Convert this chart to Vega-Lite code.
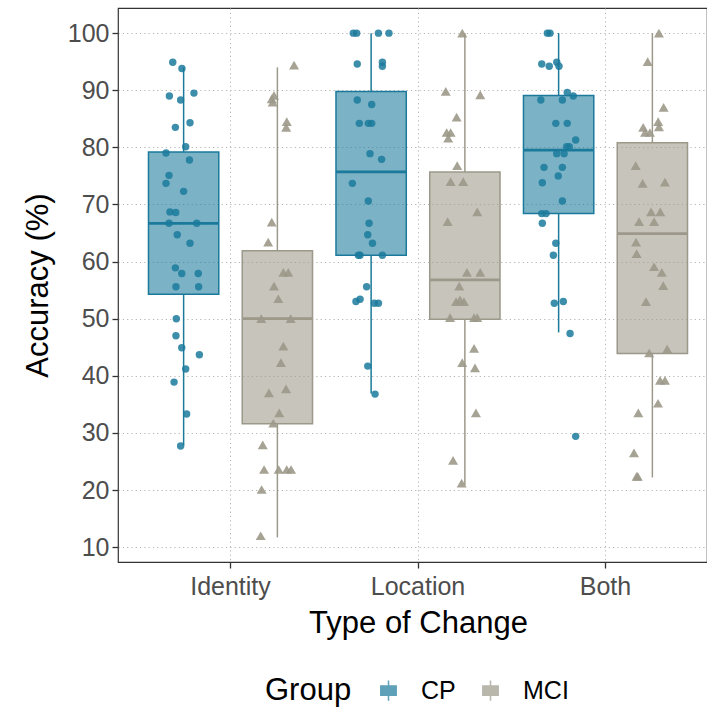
{
  "$schema": "https://vega.github.io/schema/vega-lite/v6.json",
  "width": 589,
  "height": 554,
  "autosize": {"type": "none"},
  "padding": {"left": 118, "top": 8, "right": 0, "bottom": 151},
  "background": "white",
  "config": {
    "font": "Liberation Sans",
    "view": {"stroke": "#333333", "strokeWidth": 1.2},
    "axis": {
      "domain": false,
      "grid": true,
      "gridColor": "#b5b5b5",
      "gridDash": [1.2, 3.1],
      "gridWidth": 1,
      "tickColor": "#333333",
      "tickWidth": 1.3,
      "tickSize": 6,
      "labelColor": "#4d4d4d",
      "labelFontSize": 25,
      "labelPadding": 3,
      "titleFontSize": 31,
      "titleFontWeight": "normal",
      "titleColor": "#000000"
    },
    "legend": {
      "titleFontSize": 31,
      "titleFontWeight": "normal",
      "titleColor": "#000000",
      "labelFontSize": 25,
      "labelColor": "#000000"
    }
  },
  "datasets": {
    "boxes": [
      {"type": "Identity", "group": "CP", "lower": 27.8, "q1": 54.3, "median": 66.7, "q3": 79.2, "upper": 94.0},
      {"type": "Identity", "group": "MCI", "lower": 11.7, "q1": 31.6, "median": 50.0, "q3": 61.9, "upper": 94.0},
      {"type": "Location", "group": "CP", "lower": 36.9, "q1": 61.1, "median": 75.7, "q3": 89.8, "upper": 100},
      {"type": "Location", "group": "MCI", "lower": 20.9, "q1": 49.9, "median": 56.8, "q3": 75.7, "upper": 100},
      {"type": "Both", "group": "CP", "lower": 47.6, "q1": 68.4, "median": 79.5, "q3": 89.1, "upper": 100},
      {"type": "Both", "group": "MCI", "lower": 22.2, "q1": 43.9, "median": 64.9, "q3": 80.8, "upper": 100}
    ],
    "points": [
      {"type": "Identity", "group": "CP", "accuracy": 94.9, "jitter": -0.058},
      {"type": "Identity", "group": "CP", "accuracy": 93.8, "jitter": -0.009},
      {"type": "Identity", "group": "CP", "accuracy": 89.5, "jitter": 0.055},
      {"type": "Identity", "group": "CP", "accuracy": 89.0, "jitter": -0.076},
      {"type": "Identity", "group": "CP", "accuracy": 88.3, "jitter": -0.016},
      {"type": "Identity", "group": "CP", "accuracy": 84.3, "jitter": 0.034},
      {"type": "Identity", "group": "CP", "accuracy": 83.5, "jitter": -0.044},
      {"type": "Identity", "group": "CP", "accuracy": 80.1, "jitter": 0.011},
      {"type": "Identity", "group": "CP", "accuracy": 79.0, "jitter": -0.094},
      {"type": "Identity", "group": "CP", "accuracy": 77.8, "jitter": 0.031},
      {"type": "Identity", "group": "CP", "accuracy": 75.1, "jitter": -0.078},
      {"type": "Identity", "group": "CP", "accuracy": 73.7, "jitter": -0.094},
      {"type": "Identity", "group": "CP", "accuracy": 72.3, "jitter": 0.0},
      {"type": "Identity", "group": "CP", "accuracy": 68.7, "jitter": -0.073},
      {"type": "Identity", "group": "CP", "accuracy": 68.6, "jitter": -0.042},
      {"type": "Identity", "group": "CP", "accuracy": 66.7, "jitter": -0.078},
      {"type": "Identity", "group": "CP", "accuracy": 66.7, "jitter": 0.070},
      {"type": "Identity", "group": "CP", "accuracy": 64.7, "jitter": -0.034},
      {"type": "Identity", "group": "CP", "accuracy": 63.2, "jitter": 0.034},
      {"type": "Identity", "group": "CP", "accuracy": 58.9, "jitter": -0.044},
      {"type": "Identity", "group": "CP", "accuracy": 57.9, "jitter": -0.010},
      {"type": "Identity", "group": "CP", "accuracy": 57.9, "jitter": 0.078},
      {"type": "Identity", "group": "CP", "accuracy": 55.6, "jitter": -0.041},
      {"type": "Identity", "group": "CP", "accuracy": 55.6, "jitter": 0.080},
      {"type": "Identity", "group": "CP", "accuracy": 50.0, "jitter": -0.039},
      {"type": "Identity", "group": "CP", "accuracy": 47.0, "jitter": -0.041},
      {"type": "Identity", "group": "CP", "accuracy": 44.9, "jitter": -0.010},
      {"type": "Identity", "group": "CP", "accuracy": 43.7, "jitter": 0.084},
      {"type": "Identity", "group": "CP", "accuracy": 41.2, "jitter": 0.011},
      {"type": "Identity", "group": "CP", "accuracy": 38.9, "jitter": -0.051},
      {"type": "Identity", "group": "CP", "accuracy": 33.3, "jitter": 0.016},
      {"type": "Identity", "group": "CP", "accuracy": 27.7, "jitter": -0.016},
      {"type": "Identity", "group": "MCI", "accuracy": 94.4, "jitter": 0.089},
      {"type": "Identity", "group": "MCI", "accuracy": 89.1, "jitter": -0.018},
      {"type": "Identity", "group": "MCI", "accuracy": 88.5, "jitter": -0.030},
      {"type": "Identity", "group": "MCI", "accuracy": 87.9, "jitter": -0.025},
      {"type": "Identity", "group": "MCI", "accuracy": 84.5, "jitter": 0.050},
      {"type": "Identity", "group": "MCI", "accuracy": 83.5, "jitter": 0.047},
      {"type": "Identity", "group": "MCI", "accuracy": 66.9, "jitter": -0.030},
      {"type": "Identity", "group": "MCI", "accuracy": 63.4, "jitter": -0.049},
      {"type": "Identity", "group": "MCI", "accuracy": 58.1, "jitter": 0.032},
      {"type": "Identity", "group": "MCI", "accuracy": 58.1, "jitter": 0.058},
      {"type": "Identity", "group": "MCI", "accuracy": 55.7, "jitter": -0.018},
      {"type": "Identity", "group": "MCI", "accuracy": 53.5, "jitter": 0.005},
      {"type": "Identity", "group": "MCI", "accuracy": 50.0, "jitter": -0.086},
      {"type": "Identity", "group": "MCI", "accuracy": 50.0, "jitter": 0.071},
      {"type": "Identity", "group": "MCI", "accuracy": 45.2, "jitter": 0.032},
      {"type": "Identity", "group": "MCI", "accuracy": 42.3, "jitter": 0.019},
      {"type": "Identity", "group": "MCI", "accuracy": 37.7, "jitter": 0.046},
      {"type": "Identity", "group": "MCI", "accuracy": 37.0, "jitter": -0.045},
      {"type": "Identity", "group": "MCI", "accuracy": 33.5, "jitter": 0.010},
      {"type": "Identity", "group": "MCI", "accuracy": 31.7, "jitter": -0.022},
      {"type": "Identity", "group": "MCI", "accuracy": 27.9, "jitter": -0.078},
      {"type": "Identity", "group": "MCI", "accuracy": 23.6, "jitter": -0.071},
      {"type": "Identity", "group": "MCI", "accuracy": 23.6, "jitter": 0.007},
      {"type": "Identity", "group": "MCI", "accuracy": 23.6, "jitter": 0.050},
      {"type": "Identity", "group": "MCI", "accuracy": 23.6, "jitter": 0.073},
      {"type": "Identity", "group": "MCI", "accuracy": 20.1, "jitter": -0.084},
      {"type": "Identity", "group": "MCI", "accuracy": 12.0, "jitter": -0.089},
      {"type": "Location", "group": "CP", "accuracy": 100, "jitter": -0.095},
      {"type": "Location", "group": "CP", "accuracy": 100, "jitter": -0.077},
      {"type": "Location", "group": "CP", "accuracy": 100, "jitter": 0.039},
      {"type": "Location", "group": "CP", "accuracy": 100, "jitter": 0.095},
      {"type": "Location", "group": "CP", "accuracy": 94.6, "jitter": -0.074},
      {"type": "Location", "group": "CP", "accuracy": 94.9, "jitter": 0.060},
      {"type": "Location", "group": "CP", "accuracy": 94.2, "jitter": 0.060},
      {"type": "Location", "group": "CP", "accuracy": 88.3, "jitter": -0.074},
      {"type": "Location", "group": "CP", "accuracy": 87.5, "jitter": 0.003},
      {"type": "Location", "group": "CP", "accuracy": 84.2, "jitter": -0.063},
      {"type": "Location", "group": "CP", "accuracy": 84.2, "jitter": -0.015},
      {"type": "Location", "group": "CP", "accuracy": 84.2, "jitter": 0.003},
      {"type": "Location", "group": "CP", "accuracy": 78.9, "jitter": -0.006},
      {"type": "Location", "group": "CP", "accuracy": 77.9, "jitter": 0.056},
      {"type": "Location", "group": "CP", "accuracy": 73.7, "jitter": -0.100},
      {"type": "Location", "group": "CP", "accuracy": 70.6, "jitter": -0.015},
      {"type": "Location", "group": "CP", "accuracy": 66.7, "jitter": -0.011},
      {"type": "Location", "group": "CP", "accuracy": 64.7, "jitter": -0.018},
      {"type": "Location", "group": "CP", "accuracy": 63.2, "jitter": 0.007},
      {"type": "Location", "group": "CP", "accuracy": 61.1, "jitter": -0.068},
      {"type": "Location", "group": "CP", "accuracy": 61.1, "jitter": -0.059},
      {"type": "Location", "group": "CP", "accuracy": 61.1, "jitter": 0.060},
      {"type": "Location", "group": "CP", "accuracy": 55.6, "jitter": -0.024},
      {"type": "Location", "group": "CP", "accuracy": 53.0, "jitter": -0.081},
      {"type": "Location", "group": "CP", "accuracy": 53.4, "jitter": -0.059},
      {"type": "Location", "group": "CP", "accuracy": 52.7, "jitter": 0.017},
      {"type": "Location", "group": "CP", "accuracy": 52.7, "jitter": 0.039},
      {"type": "Location", "group": "CP", "accuracy": 41.7, "jitter": -0.018},
      {"type": "Location", "group": "CP", "accuracy": 36.8, "jitter": 0.021},
      {"type": "Location", "group": "MCI", "accuracy": 100, "jitter": -0.014},
      {"type": "Location", "group": "MCI", "accuracy": 89.8, "jitter": -0.102},
      {"type": "Location", "group": "MCI", "accuracy": 89.2, "jitter": 0.082},
      {"type": "Location", "group": "MCI", "accuracy": 85.3, "jitter": -0.044},
      {"type": "Location", "group": "MCI", "accuracy": 82.6, "jitter": -0.097},
      {"type": "Location", "group": "MCI", "accuracy": 82.6, "jitter": -0.076},
      {"type": "Location", "group": "MCI", "accuracy": 81.6, "jitter": -0.089},
      {"type": "Location", "group": "MCI", "accuracy": 76.8, "jitter": -0.041},
      {"type": "Location", "group": "MCI", "accuracy": 74.0, "jitter": -0.076},
      {"type": "Location", "group": "MCI", "accuracy": 74.0, "jitter": -0.009},
      {"type": "Location", "group": "MCI", "accuracy": 68.7, "jitter": 0.066},
      {"type": "Location", "group": "MCI", "accuracy": 67.0, "jitter": -0.092},
      {"type": "Location", "group": "MCI", "accuracy": 58.1, "jitter": 0.011},
      {"type": "Location", "group": "MCI", "accuracy": 58.1, "jitter": 0.082},
      {"type": "Location", "group": "MCI", "accuracy": 55.7, "jitter": -0.030},
      {"type": "Location", "group": "MCI", "accuracy": 53.0, "jitter": -0.047},
      {"type": "Location", "group": "MCI", "accuracy": 53.3, "jitter": -0.026},
      {"type": "Location", "group": "MCI", "accuracy": 53.0, "jitter": -0.005},
      {"type": "Location", "group": "MCI", "accuracy": 50.2, "jitter": -0.079},
      {"type": "Location", "group": "MCI", "accuracy": 50.2, "jitter": 0.049},
      {"type": "Location", "group": "MCI", "accuracy": 50.2, "jitter": 0.066},
      {"type": "Location", "group": "MCI", "accuracy": 44.8, "jitter": 0.049},
      {"type": "Location", "group": "MCI", "accuracy": 42.3, "jitter": -0.014},
      {"type": "Location", "group": "MCI", "accuracy": 41.4, "jitter": 0.054},
      {"type": "Location", "group": "MCI", "accuracy": 33.5, "jitter": 0.059},
      {"type": "Location", "group": "MCI", "accuracy": 25.2, "jitter": -0.063},
      {"type": "Location", "group": "MCI", "accuracy": 21.2, "jitter": -0.017},
      {"type": "Both", "group": "CP", "accuracy": 100, "jitter": -0.060},
      {"type": "Both", "group": "CP", "accuracy": 100, "jitter": -0.046},
      {"type": "Both", "group": "CP", "accuracy": 94.6, "jitter": -0.090},
      {"type": "Both", "group": "CP", "accuracy": 94.2, "jitter": -0.050},
      {"type": "Both", "group": "CP", "accuracy": 94.9, "jitter": -0.010},
      {"type": "Both", "group": "CP", "accuracy": 94.2, "jitter": 0.002},
      {"type": "Both", "group": "CP", "accuracy": 89.6, "jitter": 0.046},
      {"type": "Both", "group": "CP", "accuracy": 89.0, "jitter": 0.078},
      {"type": "Both", "group": "CP", "accuracy": 88.3, "jitter": -0.095},
      {"type": "Both", "group": "CP", "accuracy": 88.3, "jitter": 0.020},
      {"type": "Both", "group": "CP", "accuracy": 84.2, "jitter": -0.015},
      {"type": "Both", "group": "CP", "accuracy": 84.2, "jitter": 0.046},
      {"type": "Both", "group": "CP", "accuracy": 81.3, "jitter": 0.091},
      {"type": "Both", "group": "CP", "accuracy": 80.1, "jitter": 0.043},
      {"type": "Both", "group": "CP", "accuracy": 80.1, "jitter": 0.057},
      {"type": "Both", "group": "CP", "accuracy": 78.9, "jitter": -0.010},
      {"type": "Both", "group": "CP", "accuracy": 78.9, "jitter": 0.029},
      {"type": "Both", "group": "CP", "accuracy": 76.5, "jitter": -0.078},
      {"type": "Both", "group": "CP", "accuracy": 76.5, "jitter": 0.020},
      {"type": "Both", "group": "CP", "accuracy": 75.0, "jitter": -0.002},
      {"type": "Both", "group": "CP", "accuracy": 73.8, "jitter": -0.087},
      {"type": "Both", "group": "CP", "accuracy": 70.6, "jitter": 0.020},
      {"type": "Both", "group": "CP", "accuracy": 68.4, "jitter": -0.090},
      {"type": "Both", "group": "CP", "accuracy": 68.4, "jitter": -0.067},
      {"type": "Both", "group": "CP", "accuracy": 66.7, "jitter": -0.087},
      {"type": "Both", "group": "CP", "accuracy": 63.2, "jitter": -0.015},
      {"type": "Both", "group": "CP", "accuracy": 61.1, "jitter": -0.028},
      {"type": "Both", "group": "CP", "accuracy": 52.7, "jitter": -0.023},
      {"type": "Both", "group": "CP", "accuracy": 53.0, "jitter": 0.025},
      {"type": "Both", "group": "CP", "accuracy": 47.4, "jitter": 0.061},
      {"type": "Both", "group": "CP", "accuracy": 29.4, "jitter": 0.091},
      {"type": "Both", "group": "MCI", "accuracy": 100, "jitter": 0.035},
      {"type": "Both", "group": "MCI", "accuracy": 95.0, "jitter": -0.025},
      {"type": "Both", "group": "MCI", "accuracy": 87.0, "jitter": 0.060},
      {"type": "Both", "group": "MCI", "accuracy": 84.5, "jitter": 0.031},
      {"type": "Both", "group": "MCI", "accuracy": 83.6, "jitter": 0.035},
      {"type": "Both", "group": "MCI", "accuracy": 83.5, "jitter": -0.049},
      {"type": "Both", "group": "MCI", "accuracy": 82.6, "jitter": -0.039},
      {"type": "Both", "group": "MCI", "accuracy": 82.6, "jitter": -0.013},
      {"type": "Both", "group": "MCI", "accuracy": 76.8, "jitter": -0.089},
      {"type": "Both", "group": "MCI", "accuracy": 73.7, "jitter": -0.052},
      {"type": "Both", "group": "MCI", "accuracy": 73.9, "jitter": 0.067},
      {"type": "Both", "group": "MCI", "accuracy": 68.7, "jitter": -0.007},
      {"type": "Both", "group": "MCI", "accuracy": 68.7, "jitter": 0.042},
      {"type": "Both", "group": "MCI", "accuracy": 67.0, "jitter": -0.071},
      {"type": "Both", "group": "MCI", "accuracy": 67.0, "jitter": 0.009},
      {"type": "Both", "group": "MCI", "accuracy": 63.4, "jitter": -0.087},
      {"type": "Both", "group": "MCI", "accuracy": 61.4, "jitter": -0.084},
      {"type": "Both", "group": "MCI", "accuracy": 59.1, "jitter": 0.009},
      {"type": "Both", "group": "MCI", "accuracy": 58.1, "jitter": 0.050},
      {"type": "Both", "group": "MCI", "accuracy": 55.8, "jitter": 0.058},
      {"type": "Both", "group": "MCI", "accuracy": 53.0, "jitter": -0.034},
      {"type": "Both", "group": "MCI", "accuracy": 44.0, "jitter": -0.017},
      {"type": "Both", "group": "MCI", "accuracy": 44.7, "jitter": 0.079},
      {"type": "Both", "group": "MCI", "accuracy": 39.2, "jitter": 0.041},
      {"type": "Both", "group": "MCI", "accuracy": 39.2, "jitter": 0.067},
      {"type": "Both", "group": "MCI", "accuracy": 35.2, "jitter": 0.030},
      {"type": "Both", "group": "MCI", "accuracy": 33.5, "jitter": -0.075},
      {"type": "Both", "group": "MCI", "accuracy": 26.5, "jitter": -0.098},
      {"type": "Both", "group": "MCI", "accuracy": 22.4, "jitter": -0.084},
      {"type": "Both", "group": "MCI", "accuracy": 22.4, "jitter": -0.078}
    ]
  },
  "encoding": {
    "x": {
      "field": "type",
      "type": "nominal",
      "sort": ["Identity", "Location", "Both"],
      "title": "Type of Change",
      "scale": {"range": [0, 600], "paddingInner": 0, "paddingOuter": 0.1},
      "axis": {"labelAngle": 0, "bandPosition": 0.5, "titlePadding": 9, "labelPadding": 6}
    }
  },
  "layer": [
    {
      "data": {"name": "boxes"},
      "mark": {"type": "rule", "strokeWidth": 1.5},
      "encoding": {
        "xOffset": {"field": "group", "type": "nominal", "scale": {"domain": ["CP", "MCI"], "paddingInner": 0, "paddingOuter": 0}},
        "y": {"field": "q3", "type": "quantitative", "title": "Accuracy (%)", "scale": {"domain": [7.4, 104.4], "nice": false, "zero": false},
          "axis": {
            "values": [10, 15, 20, 25, 30, 35, 40, 45, 50, 55, 60, 65, 70, 75, 80, 85, 90, 95, 100],
            "labelExpr": "datum.value % 10 === 0 ? datum.label : ''",
            "tickOpacity": {"condition": {"test": "datum.value % 10 === 0", "value": 1}, "value": 0},
            "titlePadding": 13
          }},
        "y2": {"field": "upper"},
        "stroke": {"field": "group", "type": "nominal", "title": "Group", "scale": {"domain": ["CP", "MCI"], "range": ["#1b7a9b", "#9c998a"]}}
      }
    },
    {
      "data": {"name": "boxes"},
      "mark": {"type": "rule", "strokeWidth": 1.5},
      "encoding": {
        "xOffset": {"field": "group", "type": "nominal", "scale": {"domain": ["CP", "MCI"], "paddingInner": 0, "paddingOuter": 0}},
        "y": {"field": "lower", "type": "quantitative", "title": "Accuracy (%)"},
        "y2": {"field": "q1"},
        "stroke": {"field": "group", "type": "nominal", "title": "Group"}
      }
    },
    {
      "data": {"name": "boxes"},
      "mark": {"type": "bar", "width": 70.3, "fillOpacity": 0.58, "strokeWidth": 1.5},
      "encoding": {
        "xOffset": {"field": "group", "type": "nominal", "scale": {"domain": ["CP", "MCI"], "paddingInner": 0, "paddingOuter": 0}},
        "y": {"field": "q1", "type": "quantitative", "title": "Accuracy (%)"},
        "y2": {"field": "q3"},
        "fill": {"field": "group", "type": "nominal", "title": "Group", "scale": {"domain": ["CP", "MCI"], "range": ["#1b7a9b", "#9c998a"]},
          "legend": {
            "orient": "none", "legendX": 147, "legendY": 670,
            "direction": "horizontal", "titleOrient": "left",
            "symbolType": "M-0.75,-0.45H0.75V0.45H-0.75Z M0,-0.45V-1 M0,0.45V1",
            "symbolSize": 420, "symbolStrokeWidth": 1.5, "symbolOpacity": 0.7,
            "columnPadding": 22, "labelOffset": 20, "titlePadding": 24
          }},
        "stroke": {"field": "group", "type": "nominal", "title": "Group"}
      }
    },
    {
      "data": {"name": "boxes"},
      "mark": {"type": "tick", "size": 70.3, "thickness": 2.8, "opacity": 1},
      "encoding": {
        "xOffset": {"field": "group", "type": "nominal", "scale": {"domain": ["CP", "MCI"], "paddingInner": 0, "paddingOuter": 0}},
        "y": {"field": "median", "type": "quantitative", "title": "Accuracy (%)"},
        "fill": {"field": "group", "type": "nominal", "title": "Group"}
      }
    },
    {
      "data": {"name": "points"},
      "transform": [{"filter": "datum.group === 'CP'"}],
      "mark": {"type": "point", "shape": "circle", "filled": true, "size": 55, "opacity": 0.85},
      "encoding": {
        "xOffset": {"field": "jitter", "type": "quantitative", "scale": {"domain": [-0.25, 0.75], "nice": false, "zero": false}},
        "y": {"field": "accuracy", "type": "quantitative", "title": "Accuracy (%)"},
        "fill": {"field": "group", "type": "nominal", "title": "Group"}
      }
    },
    {
      "data": {"name": "points"},
      "transform": [{"filter": "datum.group === 'MCI'"}],
      "mark": {"type": "point", "shape": "triangle-up", "filled": true, "size": 100, "opacity": 0.9},
      "encoding": {
        "xOffset": {"field": "jitter", "type": "quantitative", "scale": {"domain": [-0.75, 0.25], "nice": false, "zero": false}},
        "y": {"field": "accuracy", "type": "quantitative", "title": "Accuracy (%)"},
        "fill": {"field": "group", "type": "nominal", "title": "Group"}
      }
    }
  ],
  "resolve": {"scale": {"xOffset": "independent"}}
}
